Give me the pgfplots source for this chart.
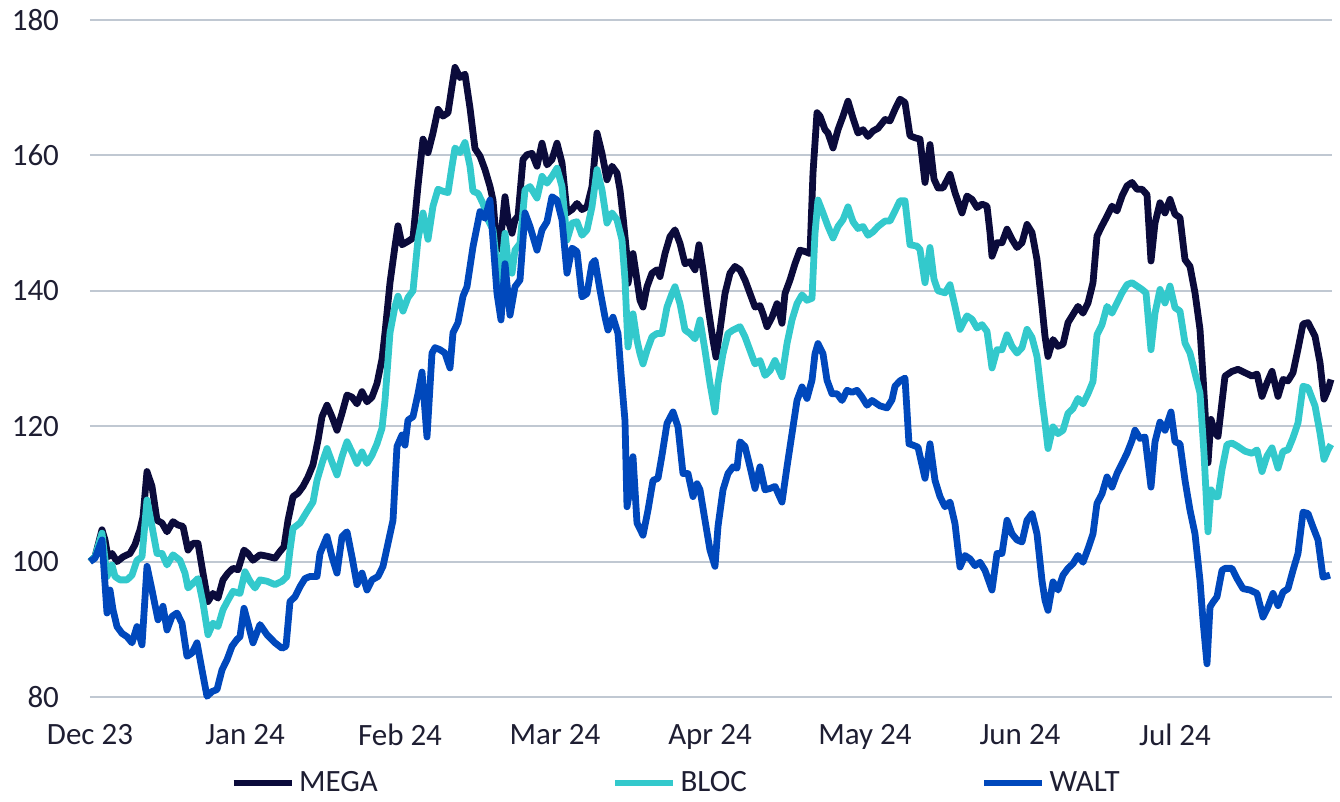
\documentclass[border=0pt]{standalone}
\usepackage{fontspec}
\setmainfont{Carlito}
\usepackage{pgfplots}
\pgfplotsset{compat=1.18}

\definecolor{mega}{RGB}{11,11,59}
\definecolor{bloc}{RGB}{51,201,204}
\definecolor{walt}{RGB}{0,72,188}
\definecolor{gridc}{RGB}{192,200,210}
\definecolor{txt}{RGB}{30,30,50}

% x = position along the time axis (one month = 155), y = index level
\begin{document}
\begin{tikzpicture}
\begin{axis}[
  scale only axis,
  width=621pt, height=338.5pt,
  xmin=0, xmax=1242, ymin=80, ymax=180,
  clip=false,
  axis line style={draw=none},
  tick style={draw=none},
  ymajorgrids,
  grid style={gridc, line width=1pt},
  ytick={80,100,120,140,160,180},
  xtick={0,155,310,465,620,775,930,1085},
  xticklabels={Dec 23,Jan 24,Feb 24,Mar 24,Apr 24,May 24,Jun 24,Jul 24},
  /pgf/number format/assume math mode=true,
  ticklabel style={font=\fontsize{15.5}{18}\selectfont, text=txt},
  yticklabel style={anchor=east, xshift=-12pt},
  xticklabel style={yshift=-10pt},
  legend columns=3,
  legend style={draw=none, fill=none, at={(0.4726,-0.1270)}, anchor=center,
    font=\fontsize{15.5}{18}\selectfont, text=txt,
    /tikz/every even column/.append style={column sep=115pt}},
  legend image code/.code={\draw[#1] (0pt,0pt) -- (29pt,0pt);},
  every axis plot/.append style={line width=3.4pt, line join=round},
]
\coordinate (sw) at (axis cs:0,80);
\coordinate (ne) at (axis cs:1242,180);

\addplot[mega] coordinates {
(0,100) (5,100.7) (12,104.7) (15,103.2) (18,100.7) (22,101.2) (27,100) (33,100.7) (40,101.2) (45,102.5)
(50,104.7) (53,106.6) (57,113.3) (62,111.1) (67,106.1) (72,105.7) (77,104.4) (83,105.9) (88,105.4) (93,105.2)
(98,101.7) (103,102.7) (108,102.7) (113,98.3) (118,94.1) (123,95.3) (128,94.6) (133,97.3) (138,98.3) (143,99.0)
(148,98.8) (154,101.7) (158,101.2) (163,100.2) (170,101.0) (177,100.8) (185,100.5) (190,101.5) (194,102.2) (198,106.1)
(203,109.6) (208,110.1) (213,111.1) (218,112.5) (223,114.3) (228,117.9) (232,121.4) (237,123.1) (242,121.4) (247,119.4)
(252,121.9) (257,124.6) (262,124.3) (267,123.3) (272,125.1) (277,123.6) (282,124.3) (287,126.3) (292,129.9) (295,133.8)
(300,141.2) (305,146.6) (308,149.6) (312,146.8) (318,147.3) (323,147.8) (328,155.5) (333,162.4) (338,160.4) (343,163.3)
(348,166.8) (353,165.8) (358,166.3) (362,170.2) (365,173.0) (370,171.5) (375,172.0) (380,167.0) (385,161.0) (390,159.9)
(395,157.9) (400,155.4) (403,153.4) (407,146.0) (412,149.5) (415,153.9) (418,150.5) (422,148.5) (425,150.5) (428,151.0)
(433,159.4) (437,160.1) (442,160.3) (447,158.4) (452,161.8) (457,158.6) (462,159.4) (467,161.8) (472,158.9) (477,151.5)
(482,152.0) (487,152.9) (492,152.0) (497,152.4) (502,155.4) (507,163.3) (512,160.3) (517,156.4) (522,158.4) (527,157.4)
(530,154.9) (533,151.0) (537,145.0) (538,141.1) (543,145.5) (547,141.6) (550,138.6) (553,137.6) (557,140.6) (562,142.6)
(567,143.1) (570,142.1) (575,145.5) (580,148.0) (585,149.0) (590,147.0) (595,144.0) (600,144.3) (605,143.1) (609,146.8)
(613,143.1) (618,137.6) (623,132.7) (626,130.2) (630,134.2) (635,139.6) (640,142.6) (645,143.6) (650,143.1) (655,141.6)
(660,139.6) (665,137.6) (670,137.8) (673,136.6) (677,134.7) (682,136.1) (687,138.1) (692,135.2) (695,139.6) (700,141.6)
(705,144.0) (710,146.0) (715,145.8) (720,145.5) (723,157.4) (727,166.3) (730,165.8) (735,163.8) (738,163.3) (743,161.1)
(748,163.8) (753,165.8) (758,168.0) (763,165.5) (768,163.3) (773,163.8) (778,162.8) (783,163.6) (788,164.0) (795,165.3)
(800,165.1) (805,166.8) (810,168.3) (815,167.8) (820,162.9) (825,162.6) (830,162.4) (835,156.0) (840,161.6) (844,156.5)
(848,155.2) (853,155.2) (860,157.2) (865,154.5) (872,151.5) (877,154.0) (882,153.5) (887,152.3) (892,152.8) (897,152.5)
(900,148.6) (902,145.1) (907,147.1) (912,147.1) (917,149.1) (922,147.6) (927,146.4) (932,147.1) (937,149.8) (942,148.6)
(947,144.6) (952,137.7) (955,133.3) (958,130.3) (963,132.8) (968,131.8) (973,132.1) (978,135.3) (983,136.5) (988,137.7)
(993,136.7) (998,138.2) (1003,141.2) (1007,148.1) (1012,149.6) (1017,151.0) (1022,152.5) (1027,151.8) (1032,154.0) (1037,155.5)
(1042,156.0) (1047,155.0) (1052,155.0) (1057,154.2) (1061,144.4) (1065,150.0) (1070,153.0) (1075,151.5) (1080,153.5) (1085,151.3)
(1090,150.8) (1095,144.6) (1100,143.6) (1105,139.7) (1110,134.3) (1113,127.4) (1118,114.6) (1121,121.0) (1125,119.0) (1128,118.5)
(1135,127.4) (1142,128.1) (1148,128.4) (1155,127.9) (1162,127.4) (1167,127.7) (1172,124.4) (1177,126.4) (1182,128.1) (1188,124.4)
(1193,126.9) (1198,126.7) (1203,127.9) (1208,131.4) (1213,135.1) (1218,135.3) (1225,133.3) (1230,129.4) (1234,124.0) (1238,125.4)
(1241,126.9)
};
\addlegendentry{MEGA}

\addplot[bloc] coordinates {
(0,100) (5,100.7) (12,104.2) (17,97.8) (22,99.5) (25,97.8) (30,97.3) (37,97.3) (42,98.0) (47,100.2)
(52,100.7) (57,109.1) (62,105.2) (67,101.2) (72,101.2) (77,99.5) (83,101.0) (90,100.2) (95,98.3) (98,96.1)
(103,96.8) (108,97.5) (113,93.9) (118,89.2) (123,90.9) (128,90.4) (133,92.9) (138,94.3) (143,95.6) (150,95.3)
(155,98.5) (160,97.1) (165,96.1) (170,97.3) (177,97.1) (185,96.6) (192,97.1) (197,97.8) (200,101.7) (203,104.9)
(210,105.7) (217,107.4) (223,108.8) (227,112.0) (232,114.5) (237,116.7) (242,114.7) (247,112.8) (252,115.5) (257,117.7)
(262,116.2) (267,114.5) (272,116.2) (277,114.5) (282,115.7) (287,117.4) (292,119.7) (295,123.8) (300,133.8) (305,137.7)
(308,139.2) (313,137.0) (318,139.0) (323,140.0) (328,147.6) (333,151.5) (338,147.6) (343,152.5) (348,155.0) (353,154.7)
(358,154.5) (362,158.4) (365,161.1) (370,160.4) (375,161.9) (380,158.4) (383,154.7) (388,154.4) (393,152.9) (398,150.5)
(403,149.0) (407,143.6) (410,141.1) (415,148.5) (418,144.5) (422,142.6) (425,146.0) (430,147.0) (435,154.9) (440,155.4)
(447,153.7) (452,156.9) (457,155.9) (462,156.9) (467,158.1) (472,155.4) (477,147.5) (482,150.0) (487,150.2) (492,148.2)
(497,149.0) (502,152.4) (507,157.9) (512,154.9) (517,150.0) (522,151.5) (527,150.5) (532,147.5) (535,141.6) (538,131.7)
(543,136.6) (547,132.7) (550,130.7) (553,129.2) (557,131.2) (562,133.2) (567,133.7) (572,133.7) (577,137.6) (582,139.6)
(585,140.6) (590,138.1) (595,134.2) (600,133.7) (605,132.9) (610,135.7) (615,131.2) (620,126.3) (625,122.1) (628,126.3)
(633,130.7) (638,133.7) (643,134.2) (650,134.7) (655,133.2) (660,131.2) (665,129.2) (670,129.7) (675,127.5) (680,128.2)
(685,129.7) (692,127.3) (697,132.2) (702,135.7) (707,138.1) (712,139.4) (717,138.6) (722,138.9) (725,148.5) (728,153.4)
(733,151.5) (738,149.5) (743,147.8) (748,149.5) (753,150.5) (758,152.4) (763,150.2) (768,149.2) (773,149.5) (778,148.2)
(783,148.7) (788,149.5) (795,150.3) (800,150.3) (805,151.8) (810,153.3) (815,153.3) (820,146.8) (827,146.6) (830,146.1)
(835,141.2) (840,146.4) (844,141.7) (848,140.0) (855,139.7) (860,140.9) (865,137.7) (870,134.3) (877,136.3) (882,135.8)
(887,134.5) (892,135.0) (897,134.0) (900,130.8) (902,128.6) (907,131.3) (912,131.3) (917,133.5) (922,131.8) (927,130.8)
(932,131.6) (937,134.3) (942,133.1) (947,130.3) (952,123.9) (955,120.5) (958,116.7) (963,119.9) (968,118.9) (973,119.4)
(978,121.9) (983,122.6) (988,124.1) (993,123.3) (998,124.8) (1003,126.6) (1007,133.5) (1012,135.0) (1017,137.7) (1022,136.7)
(1027,138.2) (1032,139.7) (1037,140.9) (1042,141.2) (1047,140.7) (1052,140.2) (1056,139.7) (1061,131.3) (1065,136.7) (1070,140.2)
(1075,138.2) (1080,140.7) (1085,137.5) (1090,137.0) (1095,132.3) (1100,130.8) (1105,127.8) (1110,124.9) (1114,116.0) (1118,104.4)
(1121,110.6) (1125,109.6) (1128,109.6) (1132,113.6) (1137,117.3) (1142,117.5) (1148,117.0) (1155,116.3) (1162,116.0) (1167,116.5)
(1172,113.3) (1177,115.6) (1182,116.8) (1188,113.8) (1193,116.3) (1198,116.5) (1203,118.3) (1208,120.5) (1213,125.9) (1218,125.7)
(1225,123.0) (1230,119.0) (1234,115.1) (1238,116.5) (1241,117.3)
};
\addlegendentry{BLOC}

\addplot[walt] coordinates {
(0,100) (5,100.5) (12,103.2) (17,92.4) (20,95.8) (23,92.9) (27,90.4) (32,89.4) (37,88.9) (42,88.0)
(47,90.4) (52,87.7) (57,99.3) (62,95.8) (68,91.4) (73,93.4) (77,89.9) (82,91.9) (87,92.4) (92,90.9)
(97,86.0) (102,86.5) (107,88.0) (112,84.0) (117,80.1) (122,80.8) (127,81.1) (132,84.0) (137,85.5) (142,87.5)
(147,88.5) (150,88.9) (154,93.1) (158,90.9) (163,88.0) (170,90.7) (177,89.2) (185,88.0) (192,87.2) (196,87.5)
(200,94.1) (205,94.8) (210,96.3) (215,97.5) (220,97.8) (227,97.8) (230,101.2) (237,103.7) (242,100.7) (247,98.3)
(252,103.7) (257,104.4) (262,100.7) (267,96.6) (272,98.3) (277,95.8) (282,97.3) (288,97.8) (293,99.3) (298,102.7)
(303,106.1) (307,117.0) (312,118.7) (315,117.2) (318,120.9) (323,121.4) (328,124.8) (332,128.0) (337,118.4) (342,130.8)
(345,131.6) (350,131.3) (355,130.8) (360,128.6) (363,133.8) (368,135.3) (373,139.2) (377,140.6) (383,146.5) (390,151.7)
(395,150.7) (400,153.4) (403,147.5) (407,139.6) (411,135.7) (415,144.0) (420,136.4) (425,140.6) (430,141.6) (435,151.5)
(440,149.5) (447,146.0) (452,149.0) (457,150.2) (462,153.9) (467,153.4) (472,150.5) (477,142.6) (482,146.3) (487,145.8)
(492,139.1) (497,139.6) (502,144.0) (505,144.5) (510,140.1) (515,136.1) (518,134.2) (523,136.1) (528,133.7) (531,127.8)
(535,120.8) (537,108.1) (540,110.6) (543,115.5) (547,105.7) (553,103.9) (558,107.6) (563,112.0) (568,112.3) (572,115.7)
(577,120.4) (583,122.1) (588,119.9) (593,113.0) (598,113.0) (603,109.6) (607,111.5) (610,110.6) (615,106.1) (620,101.7)
(625,99.3) (628,105.2) (633,110.6) (638,113.0) (643,114.0) (647,113.8) (650,117.7) (655,117.0) (660,114.0) (665,110.8)
(670,114.0) (675,110.6) (680,110.8) (685,111.1) (692,108.8) (697,114.0) (702,118.9) (707,123.8) (712,125.8) (717,124.1)
(722,126.8) (725,130.7) (728,132.2) (733,130.7) (737,126.8) (742,124.8) (747,124.8) (752,123.8) (757,125.3) (762,125.0)
(767,125.3) (772,124.3) (777,123.1) (782,123.8) (790,123.0) (797,122.7) (802,123.9) (805,125.9) (810,126.7) (815,127.1)
(819,117.4) (823,117.2) (828,116.9) (835,112.3) (840,117.4) (845,112.0) (850,109.6) (855,108.1) (860,108.8) (865,105.6)
(870,99.2) (875,100.9) (880,100.4) (885,99.4) (890,99.9) (895,98.7) (902,95.8) (907,101.2) (912,101.2) (917,106.1)
(922,104.1) (927,103.2) (932,102.9) (937,106.1) (942,107.1) (947,104.1) (952,97.2) (955,94.3) (958,92.8) (963,97.0)
(968,95.8) (973,98.0) (978,99.0) (983,99.7) (988,100.9) (993,99.9) (998,101.9) (1003,104.1) (1007,108.6) (1012,110.0)
(1017,112.5) (1022,111.0) (1027,113.0) (1032,114.5) (1037,116.0) (1042,117.9) (1045,119.4) (1050,118.2) (1055,118.4) (1061,111.0)
(1065,117.7) (1070,120.6) (1075,119.4) (1081,122.1) (1085,117.7) (1090,117.4) (1095,112.0) (1100,107.6) (1105,104.1) (1110,97.2)
(1113,91.3) (1117,84.9) (1120,93.3) (1123,94.0) (1127,94.8) (1132,98.7) (1135,99.0) (1142,99.0) (1147,97.5) (1153,96.0)
(1160,95.8) (1167,95.3) (1173,91.8) (1178,93.3) (1183,95.3) (1188,93.5) (1193,95.5) (1198,96.0) (1203,98.7) (1208,101.2)
(1213,107.3) (1218,107.1) (1223,105.1) (1228,103.2) (1233,97.7) (1240,98.0)
};
\addlegendentry{WALT}
\end{axis}
\pgfresetboundingbox
\path[use as bounding box] ([xshift=-45pt,yshift=-52.5pt]sw) rectangle ([xshift=4pt,yshift=10pt]ne);
\end{tikzpicture}
\end{document}
